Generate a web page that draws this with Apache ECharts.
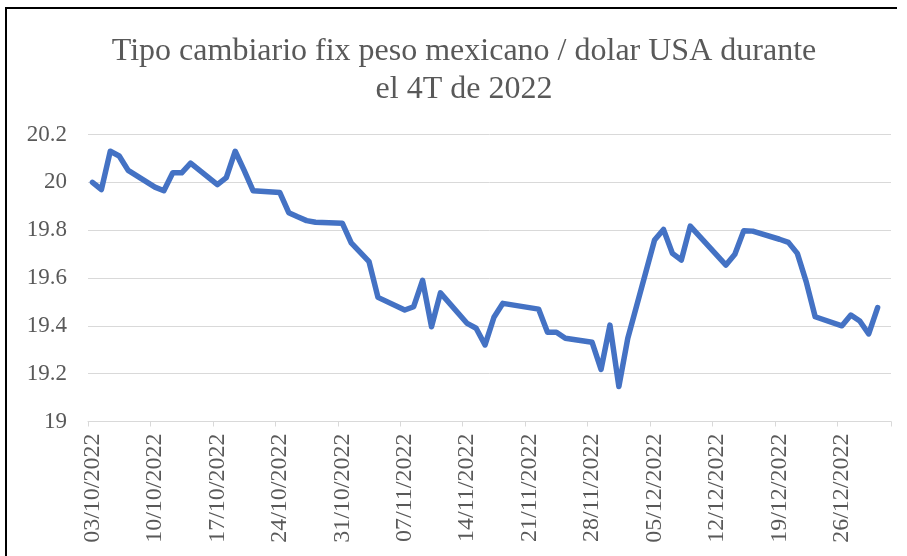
<!DOCTYPE html>
<html>
<head>
  <meta charset="UTF-8">
  <script src="https://cdn.jsdelivr.net/npm/echarts@6/dist/echarts.min.js"></script>
  <style>
    html, body { margin: 0; padding: 0; background: #fff; }
    #main { width: 907px; height: 556px; }
  </style>
</head>
<body>
  <div id="main"></div>
  <script>
    // dias del 03/10/2022 al 31/12/2022 (eje de fechas)
    var fechas = [
      '03/10/2022','04/10/2022','05/10/2022','06/10/2022','07/10/2022','08/10/2022','09/10/2022',
      '10/10/2022','11/10/2022','12/10/2022','13/10/2022','14/10/2022','15/10/2022','16/10/2022',
      '17/10/2022','18/10/2022','19/10/2022','20/10/2022','21/10/2022','22/10/2022','23/10/2022',
      '24/10/2022','25/10/2022','26/10/2022','27/10/2022','28/10/2022','29/10/2022','30/10/2022',
      '31/10/2022','01/11/2022','02/11/2022','03/11/2022','04/11/2022','05/11/2022','06/11/2022',
      '07/11/2022','08/11/2022','09/11/2022','10/11/2022','11/11/2022','12/11/2022','13/11/2022',
      '14/11/2022','15/11/2022','16/11/2022','17/11/2022','18/11/2022','19/11/2022','20/11/2022',
      '21/11/2022','22/11/2022','23/11/2022','24/11/2022','25/11/2022','26/11/2022','27/11/2022',
      '28/11/2022','29/11/2022','30/11/2022','01/12/2022','02/12/2022','03/12/2022','04/12/2022',
      '05/12/2022','06/12/2022','07/12/2022','08/12/2022','09/12/2022','10/12/2022','11/12/2022',
      '12/12/2022','13/12/2022','14/12/2022','15/12/2022','16/12/2022','17/12/2022','18/12/2022',
      '19/12/2022','20/12/2022','21/12/2022','22/12/2022','23/12/2022','24/12/2022','25/12/2022',
      '26/12/2022','27/12/2022','28/12/2022','29/12/2022','30/12/2022','31/12/2022'
    ];

    // tipo de cambio FIX (null = fin de semana / dia inhabil)
    var fix = [
      20.000, 19.970, 20.130, 20.110, 20.050, null, null,
      19.980, 19.965, 20.040, 20.040, 20.080, null, null,
      19.990, 20.020, 20.130, 20.050, 19.965, null, null,
      19.957, 19.873, 19.856, 19.840, 19.833, null, null,
      19.829, 19.747, null, 19.668, 19.519, null, null,
      19.466, 19.480, 19.590, 19.396, 19.538, null, null,
      19.410, 19.390, 19.320, 19.436, 19.494, null, null,
      null, 19.470, 19.373, 19.373, 19.348, null, null,
      19.331, 19.218, 19.403, 19.146, 19.348, null, null,
      19.759, 19.803, 19.703, 19.675, 19.817, null, null,
      null, 19.654, 19.699, 19.798, 19.796, null, null,
      19.762, 19.749, 19.703, 19.584, 19.438, null, null,
      19.400, 19.445, 19.420, 19.366, 19.476, null
    ];

    var yMin = 19, yMax = 20.2, yPaso = 0.2;
    var titulo = 'Tipo cambiario fix peso mexicano / dolar USA durante\nel 4T de 2022';

    var fuente = '"Liberation Serif", "Times New Roman", serif';
    var gris = '#595959';

    var myChart = echarts.init(document.getElementById('main'));
    myChart.setOption({
      animation: false,
      backgroundColor: '#ffffff',
      title: {
        text: titulo,
        left: 464,
        textAlign: 'center',
        top: 33,
        padding: 0,
        textStyle: {
          fontFamily: fuente,
          fontSize: 32,
          fontWeight: 'normal',
          color: gris,
          lineHeight: 38
        }
      },
      graphic: [{
        type: 'polyline',
        shape: { points: [[6, 600], [6, 8], [897, 8]] },
        style: { stroke: '#000', lineWidth: 2, fill: null }
      }],
      grid: { left: 88, right: 16, top: 134.5, bottom: 134.5, containLabel: false },
      xAxis: {
        type: 'category',
        data: fechas,
        boundaryGap: true,
        axisLine: { lineStyle: { color: '#D9D9D9', width: 1 } },
        axisTick: { show: true, interval: 6, length: 5, lineStyle: { color: '#D9D9D9' } },
        axisLabel: {
          interval: 6,
          rotate: 90,
          margin: 12,
          fontFamily: fuente,
          fontSize: 24,
          color: gris
        },
        splitLine: { show: false }
      },
      yAxis: {
        type: 'value',
        min: yMin,
        max: yMax,
        interval: yPaso,
        axisLine: { show: false },
        axisTick: { show: false },
        axisLabel: {
          margin: 21,
          fontFamily: fuente,
          fontSize: 23,
          color: gris
        },
        splitLine: { lineStyle: { color: '#D9D9D9', width: 1 } }
      },
      series: [{
        name: 'FIX',
        type: 'line',
        data: fix,
        connectNulls: true,
        showSymbol: false,
        symbol: 'none',
        lineStyle: { color: '#4472C4', width: 5.5, cap: 'round', join: 'round' }
      }]
    });
  </script>
</body>
</html>
